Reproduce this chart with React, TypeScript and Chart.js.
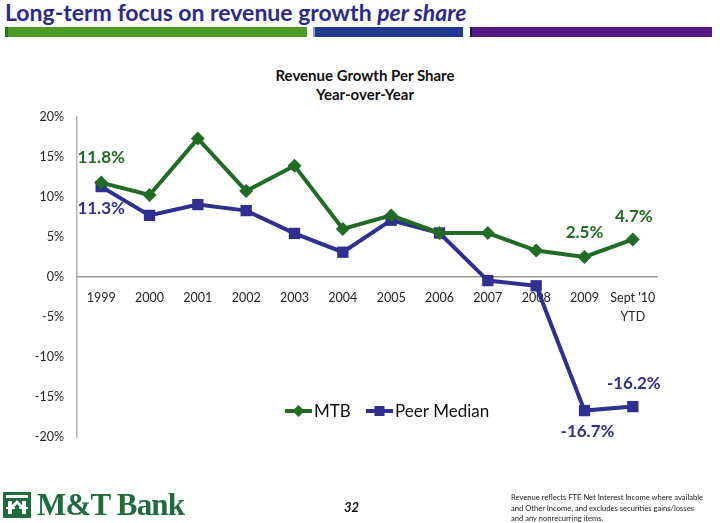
import React, { useEffect, useRef } from "react";
import { Chart, registerables } from "chart.js";

Chart.register(...registerables);

const categories: (string | string[])[] = [
  "1999", "2000", "2001", "2002", "2003", "2004",
  "2005", "2006", "2007", "2008", "2009", ["Sept '10", "YTD"],
];
const mtbValues = [11.8, 10.25, 17.3, 10.75, 13.9, 6.0, 7.7, 5.5, 5.5, 3.3, 2.5, 4.7];
const peerValues = [11.3, 7.7, 9.05, 8.3, 5.45, 3.1, 7.1, 5.5, -0.45, -1.1, -16.7, -16.2];
const yTicks = [20, 15, 10, 5, 0, -5, -10, -15, -20];
const seriesNames = ["MTB", "Peer Median"];
const mtbLabelIdx = [0, 10, 11];
const peerLabelIdx = [0, 10, 11];

const GREEN = "#226B25";
const BLUE = "#2E2F8E";
const FONT = "Lato, 'Open Sans', sans-serif";

const labelPlugin = {
  id: "valueLabels",
  afterDatasetsDraw(chart: any) {
    const ctx = chart.ctx;
    ctx.save();
    ctx.font = `bold 17px ${FONT}`;
    ctx.textAlign = "center";
    ctx.textBaseline = "middle";
    const specs = [
      { ds: 0, idx: mtbLabelIdx, color: GREEN, dy: [-25, -24, -23], dx: [0, 0, 1] },
      { ds: 1, idx: peerLabelIdx, color: BLUE, dy: [22, 21, -23], dx: [0, 3, 1] },
    ];
    for (const s of specs) {
      const meta = chart.getDatasetMeta(s.ds);
      const data = chart.data.datasets[s.ds].data as number[];
      s.idx.forEach((i, k) => {
        const el = meta.data[i];
        ctx.fillStyle = s.color;
        ctx.fillText(data[i].toFixed(1) + "%", el.x + s.dx[k], el.y + s.dy[k]);
      });
    }
    // legend
    const ly = 411;
    const items = [
      { x: 285, color: GREEN, diamond: true, text: seriesNames[0] },
      { x: 366, color: BLUE, diamond: false, text: seriesNames[1] },
    ];
    ctx.font = `17px ${FONT}`;
    ctx.textAlign = "left";
    for (const it of items) {
      ctx.strokeStyle = it.color;
      ctx.fillStyle = it.color;
      ctx.lineWidth = 4;
      ctx.beginPath();
      ctx.moveTo(it.x, ly);
      ctx.lineTo(it.x + 27, ly);
      ctx.stroke();
      const cx = it.x + 13.5;
      ctx.beginPath();
      if (it.diamond) {
        ctx.moveTo(cx, ly - 6);
        ctx.lineTo(cx + 6, ly);
        ctx.lineTo(cx, ly + 6);
        ctx.lineTo(cx - 6, ly);
        ctx.closePath();
      } else {
        ctx.rect(cx - 5, ly - 5, 10, 10);
      }
      ctx.fill();
      ctx.fillStyle = "#111";
      ctx.fillText(it.text, it.x + 29, ly + 1);
    }
    ctx.restore();
  },
};

function Logo() {
  return (
    <svg width="28" height="26" viewBox="0 0 28 26" style={{ position: "absolute", left: 3, top: 492 }}>
      <rect x="0" y="0" width="28" height="26" fill="#1F6B3B" />
      <rect x="3" y="3" width="22" height="3" fill="#fff" />
      <path d="M5 9 L9 9 L9 13 L14 8 L19 13 L19 9 L23 9 L23 22 L19 22 L19 17 L14 12 L9 17 L9 22 L5 22 Z" fill="#fff" />
      <rect x="3" y="15" width="22" height="2" fill="#fff" />
      <rect x="12" y="14" width="4" height="9" fill="#1F6B3B" />
    </svg>
  );
}

export default function App() {
  const canvasRef = useRef<HTMLCanvasElement | null>(null);

  useEffect(() => {
    document.body.style.margin = "0";
    const canvas = canvasRef.current!;
    const chart = new Chart(canvas, {
      type: "line",
      data: {
        labels: categories,
        datasets: [
          {
            label: seriesNames[0],
            data: mtbValues,
            borderColor: GREEN,
            backgroundColor: GREEN,
            borderWidth: 4,
            pointStyle: "rectRot",
            pointRadius: 7,
            pointHoverRadius: 7,
            pointBorderWidth: 0,
            tension: 0,
          },
          {
            label: seriesNames[1],
            data: peerValues,
            borderColor: BLUE,
            backgroundColor: BLUE,
            borderWidth: 4,
            pointStyle: "rect",
            pointRadius: 8,
            pointHoverRadius: 8,
            pointBorderWidth: 0,
            tension: 0,
          },
        ],
      },
      options: {
        animation: false,
        responsive: false,
        maintainAspectRatio: false,
        events: [],
        layout: { padding: { left: 0, top: 117, right: 63, bottom: 86 } },
        plugins: {
          legend: { display: false },
          tooltip: { enabled: false },
          title: { display: false },
        },
        scales: {
          y: {
            min: -20,
            max: 20,
            afterFit: (s: any) => { s.width = 77; },
            afterBuildTicks: (s: any) => {
              s.ticks = yTicks.map((v) => ({ value: v }));
            },
            grid: { display: false, drawTicks: false },
            border: { display: true, color: "#B7B2AC", width: 1.5 },
            ticks: {
              padding: 13,
              color: "#262626",
              font: { family: FONT, size: 12.5 },
              callback: (v: any) => `${v}%`,
            },
          },
          x: {
            position: { y: 0 } as any,
            offset: true,
            grid: { display: false, drawTicks: false },
            border: { display: true, color: "#9C9894", width: 1.5 },
            ticks: {
              padding: 11,
              color: "#262626",
              maxRotation: 0,
              autoSkip: false,
              font: { family: FONT, size: 12.5, lineHeight: 1.55 },
            },
          },
        },
      },
      plugins: [labelPlugin],
    });
    return () => chart.destroy();
  }, []);

  return (
    <div style={{ position: "fixed", left: 0, top: 0, width: 720, height: 523, background: "#fff", overflow: "hidden", fontFamily: FONT }}>
      <div style={{ position: "absolute", left: 5, top: -2, fontSize: 23, fontWeight: 700, color: "#2C2A88", whiteSpace: "nowrap" }}>
        Long-term focus on revenue growth <i>per share</i>
      </div>
      <div style={{ position: "absolute", left: 5, top: 27, width: 302, height: 10, background: "#4F9A24", borderLeft: "3px solid #2F6A18", boxSizing: "border-box" }} />
      <div style={{ position: "absolute", left: 313, top: 27, width: 150, height: 10, background: "#1F3A8E", borderLeft: "2px solid #7E9CC8", boxSizing: "border-box" }} />
      <div style={{ position: "absolute", left: 470, top: 27, width: 242, height: 10, background: "#551A86", borderLeft: "2px solid #1C1240", boxSizing: "border-box" }} />
      <div style={{ position: "absolute", left: 200, width: 330, top: 66, textAlign: "center", fontSize: 15, fontWeight: 700, color: "#111", lineHeight: "19px" }}>
        Revenue Growth Per Share
        <br />
        Year-over-Year
      </div>
      <canvas ref={canvasRef} width={720} height={523} style={{ position: "absolute", left: 0, top: 0 }} />
      <Logo />
      <div style={{ position: "absolute", left: 37, top: 487, fontFamily: "'Liberation Serif', serif", fontWeight: 700, fontSize: 31, color: "#1F6B3B", letterSpacing: -0.8, whiteSpace: "nowrap" }}>
        M&amp;T Bank
      </div>
      <div style={{ position: "absolute", left: 344, top: 499, fontSize: 13, fontWeight: 700, fontStyle: "italic", color: "#111" }}>32</div>
      <div style={{ position: "absolute", left: 511, top: 492, fontSize: 7.6, lineHeight: "10.5px", color: "#222", whiteSpace: "nowrap" }}>
        Revenue reflects FTE Net Interest Income where available
        <br />
        and Other Income, and excludes securities gains/losses
        <br />
        and any nonrecurring items.
      </div>
    </div>
  );
}
